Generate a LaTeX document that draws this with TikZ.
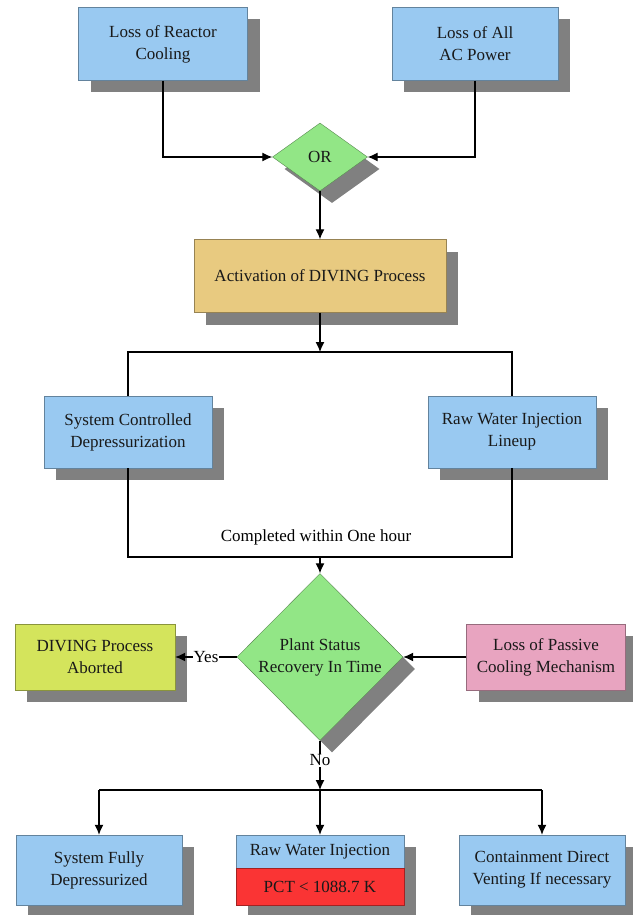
\documentclass[tikz,border=0pt]{standalone}
\usepackage{fontspec}
\setmainfont{Liberation Serif}
\usetikzlibrary{shapes.geometric,shadows,arrows.meta}

\definecolor{boxblue}{RGB}{153,201,241}
\definecolor{tanfill}{RGB}{232,202,128}
\definecolor{gatefill}{RGB}{146,230,134}
\definecolor{limefill}{RGB}{212,228,92}
\definecolor{pinkfill}{RGB}{232,164,192}
\definecolor{pctred}{RGB}{250,52,52}
\definecolor{shadowgray}{RGB}{128,128,128}

\begin{document}
\begin{tikzpicture}[x=1pt, y=-1pt, >={Latex[length=10pt,width=9pt]}]
	\tikzstyle{shade} = [drop shadow={shadow xshift=12pt, shadow yshift=-12pt, opacity=1, fill=shadowgray}]
	\tikzstyle{block} = [rectangle, shade, draw=boxblue!65!black, fill=boxblue, text=black!90, align=center, inner sep=0pt, minimum width=168pt, minimum height=72pt, font=\fontsize{17}{22}\selectfont]
	\tikzstyle{gate}  = [diamond, shade, draw=gatefill!60!black, fill=gatefill, text=black!90, align=center, inner sep=0pt, font=\fontsize{17}{22}\selectfont]
	\tikzstyle{wire}  = [draw=black, line width=1.2pt]
	\tikzstyle{tag}   = [fill=white, inner sep=1pt, font=\fontsize{17}{22}\selectfont]

	\useasboundingbox (0,0) rectangle (632,915);

	% initiating events
	\node[block, minimum width=169pt, minimum height=73pt] (reactor) at (163, 44) {Loss of Reactor\\Cooling};
	\node[block, minimum width=166pt, minimum height=73pt] (acpower) at (475, 44) {Loss of All\\AC Power};
	\node[gate, minimum width=95pt, minimum height=68pt] (or) at (320, 157) {OR};

	\node[block, fill=tanfill, draw=tanfill!65!black, minimum width=252pt, minimum height=73pt] (activation) at (320, 276) {Activation of DIVING Process};

	\foreach \name/\x/\text in {depress/128/{System Controlled\\Depressurization}, lineup/512/{Raw Water Injection\\Lineup}}
		\node[block] (\name) at (\x, 432) {\text};

	\node[gate, minimum width=166pt, minimum height=167pt] (status) at (320, 657) {Plant Status\\Recovery In Time};
	\node[block, fill=limefill, draw=limefill!65!black, minimum width=160pt, minimum height=66pt] (aborted) at (95, 657) {DIVING Process\\Aborted};
	\node[block, fill=pinkfill, draw=pinkfill!65!black, minimum width=159pt, minimum height=66pt] (passive) at (546, 657) {Loss of Passive\\Cooling Mechanism};

	% end states
	\foreach \name/\x/\text in {full/99/{System Fully\\Depressurized}, vent/542/{Containment Direct\\Venting If necessary}}
		\node[block, minimum width=166pt, minimum height=70pt] (\name) at (\x, 870) {\text};
	\node[block, minimum width=168pt, minimum height=33pt] (rawinj) at (320, 851.5) {Raw Water Injection};
	\node[block, fill=pctred, draw=pctred!65!black, minimum width=168pt, minimum height=37pt] (pct) at (320, 886.5) {PCT {<} 1088.7 K};

	\coordinate (fork) at (320, 352);
	\coordinate (join) at (320, 557);
	\coordinate (split) at (320, 790);

	\path[wire, ->] (reactor.south) |- (or.west);
	\path[wire, ->] (acpower.south) |- (or.east);
	\path[wire, ->] (or.south) -- (activation.north);
	\path[wire, ->] (activation.south) -- (fork);
	\path[wire] (depress.north) |- (fork) -| (lineup.north);
	\path[wire] (depress.south) |- (join) -| (lineup.south);
	\node[font=\fontsize{17}{22}\selectfont] (within) at (316, 537) {Completed within One hour};
	\path[wire, ->] (join) -- (status.north);

	\path[wire, ->] (status.west) -- node[tag] (yes) {Yes} (aborted.east);
	\path[wire, ->] (passive.west) -- (status.east);
	\path[wire, ->] (status.south) -- node[tag, pos=0.4] (no) {No} (split);
	\path[wire] (full.north |- split) -- (vent.north |- split);
	\foreach \to in {full, rawinj, vent}
		\path[wire, ->] (\to.north |- split) -- (\to.north);
\end{tikzpicture}
\end{document}
